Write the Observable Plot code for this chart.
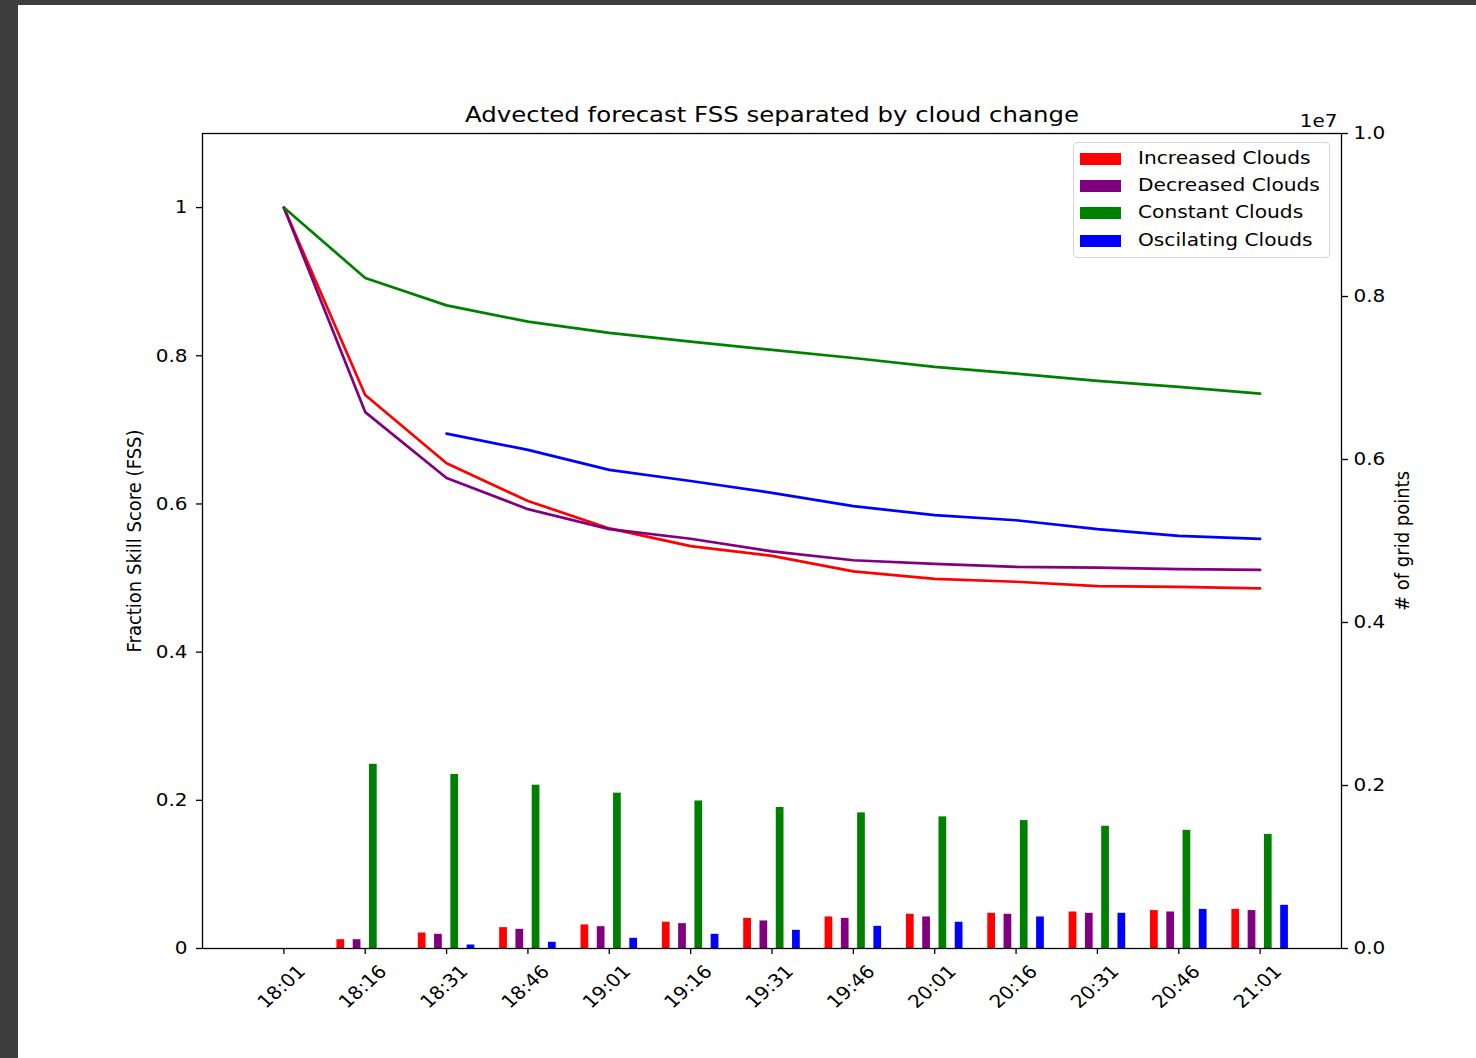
<!DOCTYPE html>
<html>
<head>
<meta charset="utf-8">
<script src="https://cdn.jsdelivr.net/npm/d3@7"></script>
<script src="https://cdn.jsdelivr.net/npm/@observablehq/plot@0.6"></script>
<style>
  html, body { margin: 0; padding: 0; background: #fff; }
  #page { position: relative; width: 1476px; height: 1058px; overflow: hidden; background: #fff; font-family: "DejaVu Sans", sans-serif; }
  #topbar { position: absolute; left: 0; top: 0; width: 1476px; height: 5px; background: #3d3d3d; z-index: 5; }
  #leftbar { position: absolute; left: 0; top: 0; width: 18px; height: 1058px; background: #3d3d3d; z-index: 5; }
  #chart { position: absolute; left: 0; top: 0; }
  #legend { position: absolute; left: 1073px; top: 142px; width: 255px; height: 114px; border: 1px solid #d4d4d4; border-radius: 4px; background: rgba(255,255,255,0.85); z-index: 3; }
  .sw { position: absolute; left: 6px; width: 41px; height: 12px; }
  .lab { position: absolute; left: 64px; font-size: 18px; line-height: 20px; white-space: nowrap; color: #000; transform: scaleX(1.12); transform-origin: left center; }
</style>
</head>
<body>
<div id="page">
  <div id="topbar"></div>
  <div id="leftbar"></div>
  <div id="chart"></div>
  <div id="legend"></div>
</div>
<script>
// ---- data ----
const times = ["18:01","18:16","18:31","18:46","19:01","19:16","19:31","19:46","20:01","20:16","20:31","20:46","21:01"];
const seriesNames = ["Increased Clouds", "Decreased Clouds", "Constant Clouds", "Oscilating Clouds"];

// Fraction Skill Score per time step (left axis)
const fssIncreased = [1.0, 0.747, 0.655, 0.604, 0.567, 0.543, 0.530, 0.509, 0.499, 0.495, 0.489, 0.488, 0.486];
const fssDecreased = [1.0, 0.724, 0.635, 0.593, 0.566, 0.553, 0.536, 0.524, 0.519, 0.515, 0.514, 0.512, 0.511];
const fssConstant  = [1.0, 0.905, 0.868, 0.846, 0.831, 0.819, 0.808, 0.797, 0.785, 0.776, 0.766, 0.758, 0.749];
const fssOscilating = [null, null, 0.695, 0.673, 0.646, 0.631, 0.615, 0.597, 0.585, 0.578, 0.566, 0.557, 0.553];

// number of grid points per time step (right axis, x1e7)
const countsIncreased  = [0, 108000, 190000, 256000, 289000, 322000, 370000, 387000, 420000, 432000, 448000, 465000, 480000];
const countsDecreased  = [0, 108000, 174000, 235000, 268000, 305000, 338000, 370000, 387000, 420000, 432000, 448000, 465000];
const countsConstant   = [0, 2260000, 2135000, 2004000, 1906000, 1810000, 1730000, 1664000, 1615000, 1570000, 1500000, 1450000, 1400000];
const countsOscilating = [0, 0, 43000, 76000, 125000, 174000, 223000, 272000, 322000, 387000, 432000, 480000, 530000];

const leftTicks = [0, 0.2, 0.4, 0.6, 0.8, 1];
const rightTicks = [0, 2e6, 4e6, 6e6, 8e6, 1e7];

const title = "Advected forecast FSS separated by cloud change";
const yLabel = "Fraction Skill Score (FSS)";
const y2Label = "# of grid points";
const y2Exponent = "1e7";

// ---- styling / layout (kept separate from the data) ----
const colors = ["#ff0000", "#800080", "#008000", "#0000ff"];
const barOffsets = [-0.3, -0.1, 0.1, 0.3];
const barWidth = 0.095;
const yMax = 1.1, countMax = 1e7;
const STRETCH = 1.11;

const fssAll = [fssIncreased, fssDecreased, fssConstant, fssOscilating];
const countsAll = [countsIncreased, countsDecreased, countsConstant, countsOscilating];
const toY = c => c / countMax * yMax;   // right-axis value -> left-axis units

const bars = [];
seriesNames.forEach((name, s) => {
  countsAll[s].forEach((c, i) => bars.push({name, s, i, c}));
});

const marks = [];
marks.push(Plot.rect(bars, {
  x1: d => d.i + barOffsets[d.s] - barWidth / 2,
  x2: d => d.i + barOffsets[d.s] + barWidth / 2,
  y1: 0,
  y2: d => toY(d.c),
  fill: d => colors[d.s]
}));
seriesNames.forEach((name, s) => {
  const rows = fssAll[s].map((v, i) => ({i, v})).filter(d => d.v != null);
  marks.push(Plot.line(rows, {x: "i", y: "v", stroke: colors[s], strokeWidth: 2.7}));
});

const xTicks = d3.range(times.length);

const chart = Plot.plot({
  width: 1476,
  height: 1058,
  marginLeft: 202,
  marginRight: 135,
  marginTop: 133,
  marginBottom: 110,
  style: {fontFamily: "DejaVu Sans, sans-serif", fontSize: "18px", color: "#000", background: "transparent", overflow: "visible"},
  x: {domain: [-1, 13]},
  y: {domain: [0, yMax]},
  color: {type: "identity"},
  marks: [
    ...marks,
    Plot.frame({stroke: "#000", strokeWidth: 1.3}),
    // x tick marks
    Plot.axisX({ticks: xTicks, tickFormat: () => "", tickSize: 6, strokeWidth: 1.3, label: null}),
    // x tick labels (rotated, centred like matplotlib)
    Plot.axisX({ticks: xTicks, tickFormat: i => times[i], tickRotate: -45, tickSize: 0, tickPadding: 12, label: null, dx: 18, dy: 8}),
    Plot.axisY({anchor: "left", ticks: leftTicks, tickFormat: d => String(d), tickSize: 6, tickPadding: 9, strokeWidth: 1.3, label: null}),
    Plot.axisY({anchor: "right", ticks: rightTicks.map(toY), tickFormat: v => (v / yMax).toFixed(1), tickSize: 6, tickPadding: 6, strokeWidth: 1.3, label: null}),
    Plot.text([yLabel], {text: d => d, frameAnchor: "left", rotate: -90, textAnchor: "middle", lineAnchor: "top", dx: -76}),
    Plot.text([y2Label], {text: d => d, frameAnchor: "right", rotate: -90, textAnchor: "middle", lineAnchor: "bottom", dx: 67}),
    Plot.text([title], {text: d => d, frameAnchor: "top", lineAnchor: "bottom", dy: -12, fontSize: 22}),
    Plot.text([y2Exponent], {text: d => d, frameAnchor: "top-right", textAnchor: "end", lineAnchor: "bottom", dy: -7, dx: -4})
  ]
});

// the reference picture is slightly stretched horizontally: stretch text the same way
for (const t of chart.querySelectorAll("text")) {
  const tr = t.getAttribute("transform") || "";
  const x = parseFloat(t.getAttribute("x") || "0") || 0;
  if (tr.includes("rotate(")) {
    t.setAttribute("transform", tr.replace("rotate(", `scale(${STRETCH},1) rotate(`));
  } else if (x) {
    t.setAttribute("transform", `${tr} translate(${x},0) scale(${STRETCH},1) translate(${-x},0)`);
  } else {
    t.setAttribute("transform", `${tr} scale(${STRETCH},1)`);
  }
}
document.getElementById("chart").appendChild(chart);

// legend
const legend = document.getElementById("legend");
const rowCenters = [16, 43, 70, 98];
seriesNames.forEach((name, s) => {
  const sw = document.createElement("div");
  sw.className = "sw";
  sw.style.top = (rowCenters[s] - 6) + "px";
  sw.style.background = colors[s];
  legend.appendChild(sw);
  const lab = document.createElement("div");
  lab.className = "lab";
  lab.style.top = (rowCenters[s] - 11) + "px";
  lab.textContent = name;
  legend.appendChild(lab);
});
</script>
</body>
</html>
